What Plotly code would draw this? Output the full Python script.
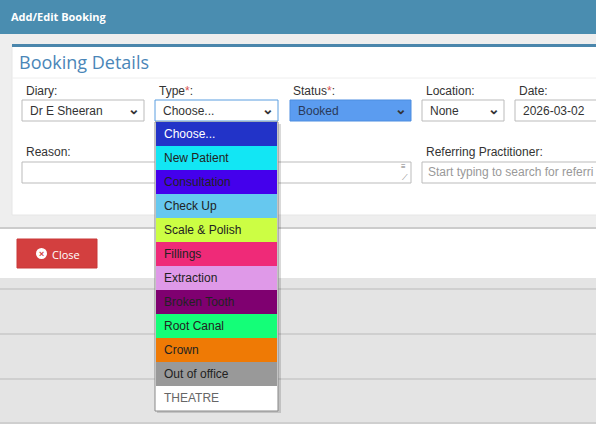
import plotly.graph_objects as go

options = ["Choose...", "New Patient", "Consultation", "Check Up", "Scale & Polish", "Fillings",
           "Extraction", "Broken Tooth", "Root Canal", "Crown", "Out of office", "THEATRE"]
option_colors = ["#2233c8", "#12e6f4", "#4400ec", "#66c8ef", "#ccfe44", "#ef2a78",
                 "#df99e8", "#7f0070", "#14fe78", "#ef7a05", "#999999", "#ffffff"]
option_text_colors = ["#ffffff"] + ["#222222"] * 10 + ["#666666"]

field_labels = ["Diary:", "Type", "Status", "Location:", "Date:"]
field_values = ["Dr E Sheeran", "Choose...", "Booked", "None", "2026-03-02"]

W, H = 596, 424
shapes, ann = [], []

def rect(x0, y0, x1, y1, fill, line=None, lw=1, layer="above"):
    shapes.append(dict(type="rect", x0=x0, y0=y0, x1=x1, y1=y1, fillcolor=fill,
                       line=dict(color=line or fill, width=lw if line else 0), layer=layer))

def text(x, y, s, size=12, color="#333333", bold=False, anchor="left", family="Arial, Liberation Sans"):
    ann.append(dict(x=x, y=y, text=f"<b>{s}</b>" if bold else s, showarrow=False, xanchor=anchor,
                    yanchor="middle", font=dict(size=size, color=color, family=family)))

rect(0, 0, W, H, "#e4e4e4")
rect(0, 34, W, 228, "#eeeeee")
rect(0, 0, W, 34, "#4a8db0")
text(9, 16, "Add/Edit Booking", 11, "#ffffff", True, family="Open Sans")
rect(12, 45, W + 5, 215, "#ffffff", "#e6e6e6")
rect(12, 44, W + 5, 47, "#4a86ac")
text(17, 62, "Booking Details", 18, "#4a86b8", family="Open Sans")
shapes.append(dict(type="line", x0=12, x1=W, y0=78, y1=78, line=dict(color="#eeeeee", width=1)))

rect(0, 228, W, 278, "#ffffff")
shapes.append(dict(type="line", x0=0, x1=W, y0=228, y1=228, line=dict(color="#cccccc", width=2)))
rect(17, 239, 97, 268, "#d33f3f", "#c93838")
shapes.append(dict(type="circle", x0=36, x1=47, y0=248, y1=259, fillcolor="#ffffff", line=dict(width=0)))
text(41.5, 253.5, "×", 9, "#d33f3f", True, "center")
text(50, 254, "Close", 11, "#ffffff", family="Open Sans")
for yy in [289, 334, 379, 423]:
    shapes.append(dict(type="line", x0=0, x1=W, y0=yy, y1=yy, line=dict(color="#cfcfcf", width=2)))

label_x = [24, 157, 291, 424, 517]
box = [(22, 144), (155, 278), (290, 411), (422, 504), (515, 600)]
for i, (lab, val) in enumerate(zip(field_labels, field_values)):
    if lab in ("Type", "Status"):
        text(label_x[i], 91, lab + "<span style='color:#d9534f'>*</span>:", 12)
    else:
        text(label_x[i], 91, lab, 12)
    x0, x1 = box[i]
    if lab == "Status":
        rect(x0, 100, x1, 121, "#5b9cf0", "#4d8de0")
    elif lab == "Type":
        rect(x0, 100, x1, 121, "#ffffff", "#5a9ee0")
    else:
        rect(x0, 100, x1, 121, "#ffffff", "#bbbbbb")
    text(x0 + 6, 111, val, 12, "#333333" if lab != "Status" else "#2a3a5a")
    if lab != "Date:":
        text(x1 - 10, 109, "⌄", 14, "#333333", True, "center")

text(24, 152, "Reason:", 12)
rect(22, 162, 411, 183, "#ffffff", "#bbbbbb")
text(403, 166, "≡", 8, "#777777", anchor="center")
text(405, 177, "⟋", 8, "#777777", anchor="center")
text(424, 152, "Referring Practitioner:", 12)
rect(422, 162, 601, 183, "#ffffff", "#bbbbbb")
text(426, 172, "Start typing to search for referri", 12, "#999999")

rect(157, 124, 281, 413, "rgba(0,0,0,0.15)")
rect(155, 122, 278, 411, "#ffffff", "#888888")
for i, (o, c, tc) in enumerate(zip(options, option_colors, option_text_colors)):
    y0 = 122 + i * 24
    rect(156, y0, 277, y0 + 24, c)
    text(162, y0 + 12, o, 12, tc)

fig = go.Figure()
fig.update_layout(width=W, height=H, margin=dict(l=0, r=0, t=0, b=0),
                  xaxis=dict(range=[0, W], visible=False, fixedrange=True),
                  yaxis=dict(range=[H, 0], visible=False, fixedrange=True),
                  plot_bgcolor="#e4e4e4", paper_bgcolor="#e4e4e4",
                  shapes=shapes, annotations=ann, showlegend=False)
fig.write_html("out.html", config={"displayModeBar": False},
               post_script="document.body.style.margin='0';document.body.style.overflow='hidden';")
